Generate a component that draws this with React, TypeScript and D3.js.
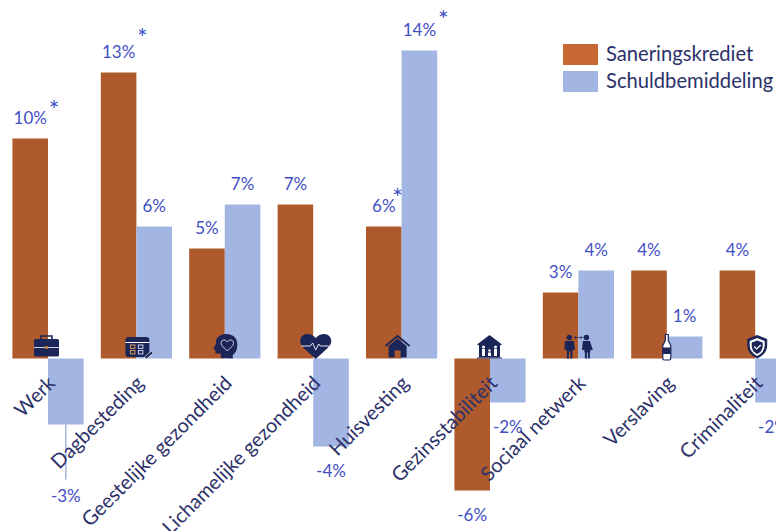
import React from "react";
import * as d3 from "d3";

const categories = ["Werk","Dagbesteding","Geestelijke gezondheid","Lichamelijke gezondheid","Huisvesting","Gezinsstabiliteit","Sociaal netwerk","Verslaving","Criminaliteit"];
const sanering = [10,13,5,7,6,-6,3,4,4];
const schuld = [-3,6,7,-4,14,-2,4,1,-2];
const saneringStars = [true,true,false,false,true,false,false,false,false];
const schuldStars = [false,false,false,false,true,false,false,false,false];
const seriesNames = ["Saneringskrediet","Schuldbemiddeling"];

const W = 776, H = 531;
const ORANGE = "#ae5a2c", ORANGE_LEG = "#c76733", BLUE = "#a3b5e3", NAVY = "#2c3169", VAL = "#3f4fc4", ICON = "#1c2558";
const FONT = "Lato, 'Open Sans', sans-serif";

const bw = 35.6;
const center = d3.scaleLinear().domain([0, 8]).range([48, 755.2]);
const cx = (i: number) => center(i);
const y = d3.scaleLinear().domain([-6, 14]).range([490.5, 50.5]);
const zero = y(0);

function Icon({ i }: { i: number }) {
  const c = ICON;
  const base = cx(i) - 48;
  const t = `translate(${base},0)`;
  if (i === 0) return <g transform={t}>
    <rect x={34} y={339} width={25} height={17.500} rx={1.500} fill={c} />
    <path d="M41 339v-3h11v3" fill="none" stroke={c} strokeWidth={1.600} />
    <path d="M34 347.500h25" stroke="#fff" strokeWidth={0.800} />
    <rect x={45} y={346} width={3} height={3} fill="#b5793f" />
  </g>;
  if (i === 1) return <g transform={t}>
    <rect x={37} y={337} width={24} height={20} rx={3} fill={c} />
    <path d="M37 342.500h24" stroke="#fff" strokeWidth={1} />
    {[0,1].map(r => [0,1].map(k => <rect key={`${r}${k}`} x={42 + k * 8} y={345 + r * 5.500} width={4.500} height={3.400} fill="none" stroke={k === 0 ? "#d19a5a" : "#cfd4ea"} strokeWidth={1} />))}
    <path d="M56 357l7-6 2 2-7 6z" fill={c} stroke="#fff" strokeWidth={0.700} />
  </g>;
  if (i === 2) return <g transform={t}>
    <path d="M44 358v-4.500h-4.500q-1.500-.5-1-3l-.5-1-1-.5q-.5-.5 0-1.500l2-3q-.5-10 10.500-10.500q11 .5 11 11q0 6.500-4.500 10v3.500z" fill={c} />
    <path d="M50.500 351l-5.500-5.500q-2-4 1.500-5.500q2.500-.5 4 2q1.500-2.500 4-2q3.500 1.500 1.500 5.500z" fill="none" stroke="#cfc8d8" strokeWidth={1} />
  </g>;
  if (i === 3) return <g transform={t}>
    <path d="M51 349l-12-11q-4-4-3.500-8q1-5.500 7-6q5 0 8.500 4q3.500-4 8.500-4q6 .5 7 6q.5 4-3.500 8z" transform="translate(-0.500,10)" fill={c} />
    <path d="M36 346h9l2.500-3 3 7 3-6 1.500 2h9" fill="none" stroke="#fff" strokeWidth={0.900} />
    <path d="M50.500 353l1.500 3.500 2-3z" fill={c} />
  </g>;
  if (i === 4) return <g transform={t}>
    <path d="M32 346l12-10 12 10" fill="none" stroke={c} strokeWidth={1.800} />
    <path d="M35 346l9-7.500 9 7.500v11.500h-6v-7h-6v7h-6z" fill={c} />
  </g>;
  if (i === 5) return <g transform={t}>
    <path d="M35 344.500l12.500-9.500 12.500 9.500-2 1v12h-21v-12z" fill={c} />
    <circle cx={41.500} cy={347} r={1.500} fill="#fff" /><circle cx={53.500} cy={347} r={1.500} fill="#fff" /><circle cx={47.500} cy={350.500} r={1.200} fill="#fff" />
    <path d="M40 349h3v7h-3zM52 349h3v7h-3zM46 352.500h3v3.500h-3z" fill="#fff" />
    <path d="M35 358h25" stroke={c} strokeWidth={1} />
  </g>;
  if (i === 6) return <g transform={t}>
    <circle cx={39} cy={337.500} r={2.800} fill={c} /><circle cx={56} cy={337.500} r={2.800} fill={c} />
    <path d="M34.500 341h9l1 9h-2.500v8.500h-2v-7h-1.500v7h-2v-8.500h-2.500zM52.500 341h7l3 9h-2.500v2.500h-.5v6h-2v-6h-1v6h-2v-6h-.5v-2.500h-2.500z" fill={c} />
    <path d="M44 337.500h8M44 337.500l2-1.500M44 337.500l2 1.500M52 337.500l-2-1.500M52 337.500l-2 1.500" stroke={c} strokeWidth={0.700} fill="none" />
  </g>;
  if (i === 7) return <g transform={t}>
    <path d="M46.500 334.500h3v6l2.500 5v13q0 1.500-1.500 1.500h-5q-1.500 0-1.500-1.500v-13l2.500-5z" fill="#fff" stroke={c} strokeWidth={1.200} />
    <rect x={44} y={347.500} width={8} height={6.500} fill={c} />
  </g>;
  return <g transform={t}>
    <path d="M40 339l10-4 10 4v6q0 9-10 13.500q-10-4.500-10-13.500z" fill={c} />
    <path d="M42.500 341l7.500-3 7.500 3v4.500q0 6.500-7.500 10.500q-7.500-4-7.500-10.500z" fill="#fff" />
    <path d="M44.500 342.500l5.500-2 5.500 2v3.500q0 5-5.500 8q-5.500-3-5.500-8z" fill={c} />
    <path d="M47 346.500l2.500 2.500 4-4" fill="none" stroke="#fff" strokeWidth={1.200} />
  </g>;
}

const LEADER_INDEX = 0;
const LEADER_LEN = 55;
const starLift = [32, 38, 0, 0, 32, 0, 0, 0, 0];
const starShift = [6, 6, 0, 0, -4, 0, 0, 0, 0];

export default function App() {
  const fmt = (v: number) => `${v}%`;
  const barY = (v: number) => Math.min(y(v), zero);
  const barH = (v: number) => Math.abs(y(v) - zero);
  const labelY = (v: number, leader: boolean) => v >= 0 ? y(v) - 14.500 : y(v) + 30 + (leader ? 47 : 0);
  return (
    <svg width={W} height={H} style={{ position: "absolute", left: 0, top: 0, fontFamily: FONT }}>
      {categories.map((_, i) => (
        <g key={i}>
          <rect x={cx(i) - bw} y={barY(sanering[i])} width={bw} height={barH(sanering[i])} fill={ORANGE} />
          <rect x={cx(i)} y={barY(schuld[i])} width={bw} height={barH(schuld[i])} fill={BLUE} />
        </g>
      ))}
      <line x1={cx(LEADER_INDEX) + bw / 2} x2={cx(LEADER_INDEX) + bw / 2} y1={y(schuld[LEADER_INDEX])} y2={y(schuld[LEADER_INDEX]) + LEADER_LEN} stroke={BLUE} strokeWidth={1.500} />
      {categories.map((_, i) => <Icon key={i} i={i} />)}
      {categories.map((c, i) => (
        <text key={c} transform={`translate(${cx(i) + 8.500},${zero + 26}) rotate(-45)`} textAnchor="end" fontSize={20} fill={NAVY}>{c}</text>
      ))}
      {categories.map((_, i) => (
        <g key={i} fontSize={17} fill={VAL} textAnchor="middle">
          <text x={cx(i) - bw / 2} y={labelY(sanering[i], false)}>{fmt(sanering[i])}</text>
          <text x={cx(i) + bw / 2} y={labelY(schuld[i], i === LEADER_INDEX)}>{fmt(schuld[i])}</text>
          {saneringStars[i] && <text x={cx(i) + starShift[i]} y={y(sanering[i]) - starLift[i] + 12} fontSize={25}>*</text>}
          {schuldStars[i] && <text x={cx(i) + bw + 6} y={y(schuld[i]) - 34 + 12} fontSize={25}>*</text>}
        </g>
      ))}
      {seriesNames.map((n, k) => (
        <g key={n}>
          <rect x={563} y={44 + k * 27} width={35} height={21} fill={k === 0 ? ORANGE_LEG : BLUE} />
          <text x={606} y={60.500 + k * 27} fontSize={20.200} fill={NAVY}>{n}</text>
        </g>
      ))}
    </svg>
  );
}
